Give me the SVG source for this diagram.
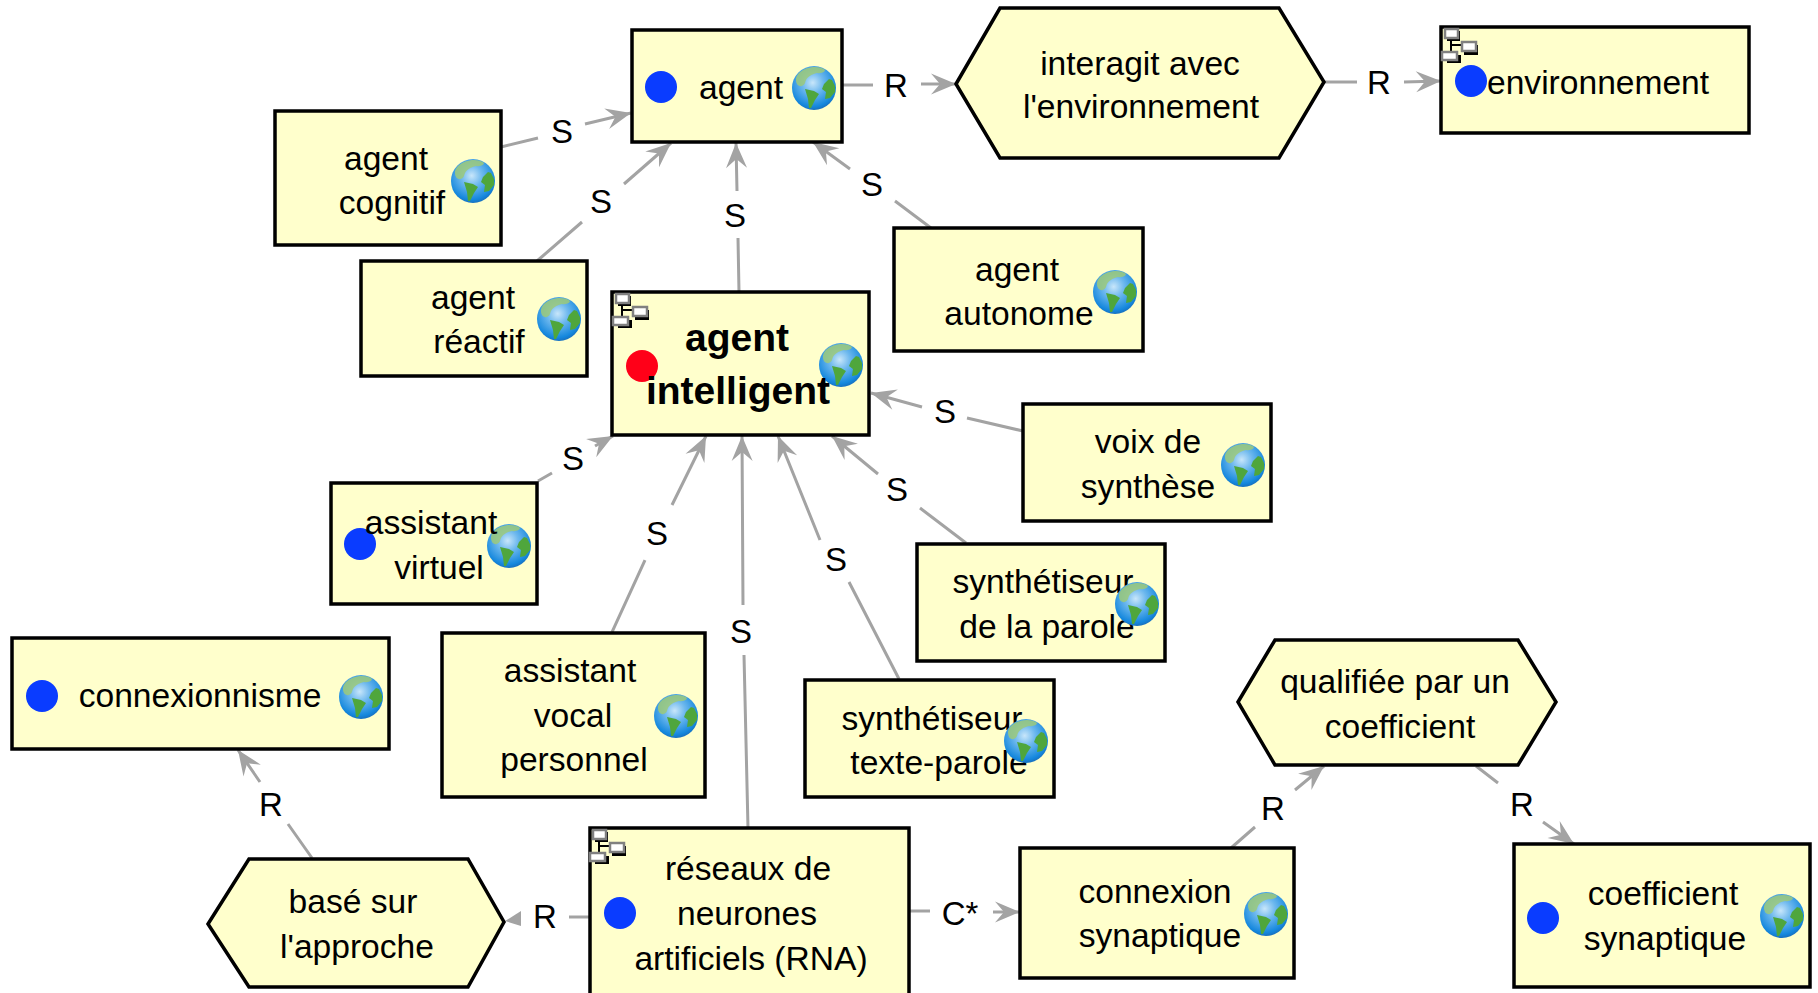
<svg xmlns="http://www.w3.org/2000/svg" xmlns:xlink="http://www.w3.org/1999/xlink" width="1818" height="993" viewBox="0 0 1818 993">
<style>
.n{fill:#ffffcc;stroke:#000;stroke-width:3.5}
.t{font-family:"Liberation Sans",Arial,sans-serif;font-size:33.6px;fill:#000;text-anchor:middle}
.b{font-size:39px;font-weight:bold}
.l{font-family:"Liberation Sans",Arial,sans-serif;font-size:33px;fill:#000;text-anchor:middle}
.c{fill:none;stroke:#a3a3a3;stroke-width:3;marker-end:url(#a)}
.p{fill:none;stroke:#a3a3a3;stroke-width:3}
</style>
<defs>
<marker id="a" markerUnits="userSpaceOnUse" markerWidth="28" markerHeight="24" refX="26" refY="12" orient="auto" viewBox="0 0 28 24"><path d="M1 1.5L26 12L1 22.5L10 12Z" fill="#a3a3a3"/></marker>
<radialGradient id="g" cx="0.47" cy="0.38" r="0.68"><stop offset="0" stop-color="#c8e6fa"/><stop offset="0.35" stop-color="#6db8ee"/><stop offset="0.8" stop-color="#1487dd"/><stop offset="1" stop-color="#1c5fa8"/></radialGradient>
<g id="e"><circle r="22" fill="url(#g)"/><path d="M-15-15C-9-21 3-23 10-19C13-17 8-14 3-15C-2-14-8-11-9-5C-11-1-15-1-17-4C-19-8-18-12-15-15Z" fill="#9cc97a" opacity=".85"/><path d="M10-4L15-9L18-8L21-2L21 4L16 10L11 11L12 4L8 1ZM-9 1L0 3L5 6L1 12L-3 20L-5 20L-6 11Z" fill="#4fa63c"/></g>
<g id="h"><path d="M10 12V30M10 18H24" stroke="#000" stroke-width="2" fill="none"/><rect x="6" y="4" width="13" height="10" fill="#000"/><rect x="4" y="2" width="13" height="9" fill="#fff" stroke="#808080" stroke-width="2.5"/><rect x="23" y="18" width="14" height="10" fill="#000"/><rect x="21" y="15" width="14" height="9" fill="#fff" stroke="#808080" stroke-width="2.5"/><rect x="6" y="28" width="14" height="8" fill="#000"/><rect x="1" y="25" width="15" height="8" fill="#fff" stroke="#808080" stroke-width="2.5"/></g>
</defs>
<rect width="1818" height="993" fill="#fff"/>
<g id="connectors">
<path class="c" d="M501 147L538 138M585 124L631 113"/>
<path class="c" d="M537 261L582 222M624 184L671 143"/>
<path class="c" d="M739 292L738 238M737 191L736 143"/>
<path class="c" d="M931 228L895 201M850 169L813 142"/>
<path class="c" d="M842 85L873 85M921 84L956 84"/>
<path class="c" d="M1324 82L1357 82M1404 82L1441 81"/>
<path class="c" d="M1023 431L967 418M922 407L871 393"/>
<path class="c" d="M966 543L920 508M878 474L832 436"/>
<path class="c" d="M899 679L849 582M820 540L778 436"/>
<path class="c" d="M748 828L744 655M743 605L742 436"/>
<path class="c" d="M612 632L645 560M672 505L706 436"/>
<path class="c" d="M538 481L552 473M595 446L613 436"/>
<path class="c" d="M312 858L288 824M260 782L238 750"/>
<path class="p" d="M589 917L569 917"/><path d="M505 921L521 911V926Z" fill="#a3a3a3"/>
<path class="c" d="M909 911L930 911M993 912L1020 912"/>
<path class="c" d="M1231 848L1255 827M1295 790L1324 766"/>
<path class="c" d="M1476 766L1498 783M1543 822L1574 844"/>
<g class="l">
<text x="562" y="143">S</text><text x="601" y="213">S</text><text x="735" y="227">S</text><text x="872" y="196">S</text>
<text x="896" y="97">R</text><text x="1379" y="94">R</text><text x="945" y="423">S</text><text x="897" y="501">S</text>
<text x="836" y="571">S</text><text x="741" y="643">S</text><text x="657" y="545">S</text><text x="573" y="470">S</text>
<text x="271" y="816">R</text><text x="545" y="928">R</text><text x="960" y="925">C*</text><text x="1273" y="820">R</text><text x="1522" y="816">R</text>
</g>
</g>
<g id="agent"><rect class="n" x="632" y="30" width="210" height="112"/><circle cx="661" cy="87" r="16" fill="#0a3cff"/><use xlink:href="#e" href="#e" x="814" y="88"/><text class="t" x="741" y="99">agent</text></g>
<g id="interagit"><path class="n" d="M956 84L1000 8H1279L1324 82L1279 158H1000Z"/><text class="t" x="1140" y="75">interagit avec</text><text class="t" x="1141" y="118">l'environnement</text></g>
<g id="environnement"><rect class="n" x="1441" y="27" width="308" height="106"/><use xlink:href="#h" href="#h" x="1441" y="27"/><circle cx="1471" cy="81" r="16" fill="#0a3cff"/><text class="t" x="1487" y="94" style="text-anchor:start">environnement</text></g>
<g id="cognitif"><rect class="n" x="275" y="111" width="226" height="134"/><use xlink:href="#e" href="#e" x="473" y="181"/><text class="t" x="386" y="170">agent</text><text class="t" x="392" y="214">cognitif</text></g>
<g id="reactif"><rect class="n" x="361" y="261" width="226" height="115"/><use xlink:href="#e" href="#e" x="559" y="319"/><text class="t" x="473" y="309">agent</text><text class="t" x="479" y="353">réactif</text></g>
<g id="autonome"><rect class="n" x="894" y="228" width="249" height="123"/><use xlink:href="#e" href="#e" x="1115" y="292"/><text class="t" x="1017" y="281">agent</text><text class="t" x="1019" y="325">autonome</text></g>
<g id="intelligent"><rect class="n" x="612" y="292" width="257" height="143"/><use xlink:href="#h" href="#h" x="612" y="292"/><circle cx="642" cy="366" r="16" fill="#ff0018"/><use xlink:href="#e" href="#e" x="841" y="365"/><text class="t b" x="737" y="351">agent</text><text class="t b" x="738" y="404">intelligent</text></g>
<g id="voix"><rect class="n" x="1023" y="404" width="248" height="117"/><use xlink:href="#e" href="#e" x="1243" y="465"/><text class="t" x="1148" y="453">voix de</text><text class="t" x="1148" y="498">synthèse</text></g>
<g id="parole"><rect class="n" x="917" y="544" width="248" height="117"/><text class="t" x="1043" y="593">synthétiseur</text><text class="t" x="1047" y="638">de la parole</text><use xlink:href="#e" href="#e" x="1137" y="604"/></g>
<g id="texteparole"><rect class="n" x="805" y="680" width="249" height="117"/><text class="t" x="932" y="730">synthétiseur</text><text class="t" x="939" y="774">texte-parole</text><use xlink:href="#e" href="#e" x="1026" y="741"/></g>
<g id="virtuel"><rect class="n" x="331" y="483" width="206" height="121"/><circle cx="360" cy="544" r="16" fill="#0a3cff"/><use xlink:href="#e" href="#e" x="509" y="546"/><text class="t" x="431" y="534">assistant</text><text class="t" x="439" y="579">virtuel</text></g>
<g id="vocal"><rect class="n" x="442" y="633" width="263" height="164"/><use xlink:href="#e" href="#e" x="676" y="716"/><text class="t" x="570" y="682">assistant</text><text class="t" x="573" y="727">vocal</text><text class="t" x="574" y="771">personnel</text></g>
<g id="connexionnisme"><rect class="n" x="12" y="638" width="377" height="111"/><circle cx="42" cy="696" r="16" fill="#0a3cff"/><use xlink:href="#e" href="#e" x="361" y="697"/><text class="t" x="200" y="707">connexionnisme</text></g>
<g id="base"><path class="n" d="M208 924L249 859H468L504 922L468 987H249Z"/><text class="t" x="353" y="913">basé sur</text><text class="t" x="357" y="958">l'approche</text></g>
<g id="rna"><rect class="n" x="590" y="828" width="319" height="180"/><use xlink:href="#h" href="#h" x="589" y="828"/><circle cx="620" cy="913" r="16" fill="#0a3cff"/><text class="t" x="748" y="880">réseaux de</text><text class="t" x="747" y="925">neurones</text><text class="t" x="751" y="970">artificiels (RNA)</text></g>
<g id="connexion"><rect class="n" x="1020" y="848" width="274" height="130"/><use xlink:href="#e" href="#e" x="1266" y="914"/><text class="t" x="1155" y="903">connexion</text><text class="t" x="1160" y="947">synaptique</text></g>
<g id="qualifiee"><path class="n" d="M1238 702L1275 640H1518L1556 702L1518 765H1275Z"/><text class="t" x="1395" y="693">qualifiée par un</text><text class="t" x="1400" y="738">coefficient</text></g>
<g id="coefficient"><rect class="n" x="1514" y="844" width="296" height="143"/><circle cx="1543" cy="918" r="16" fill="#0a3cff"/><use xlink:href="#e" href="#e" x="1782" y="916"/><text class="t" x="1663" y="905">coefficient</text><text class="t" x="1665" y="950">synaptique</text></g>
</svg>
